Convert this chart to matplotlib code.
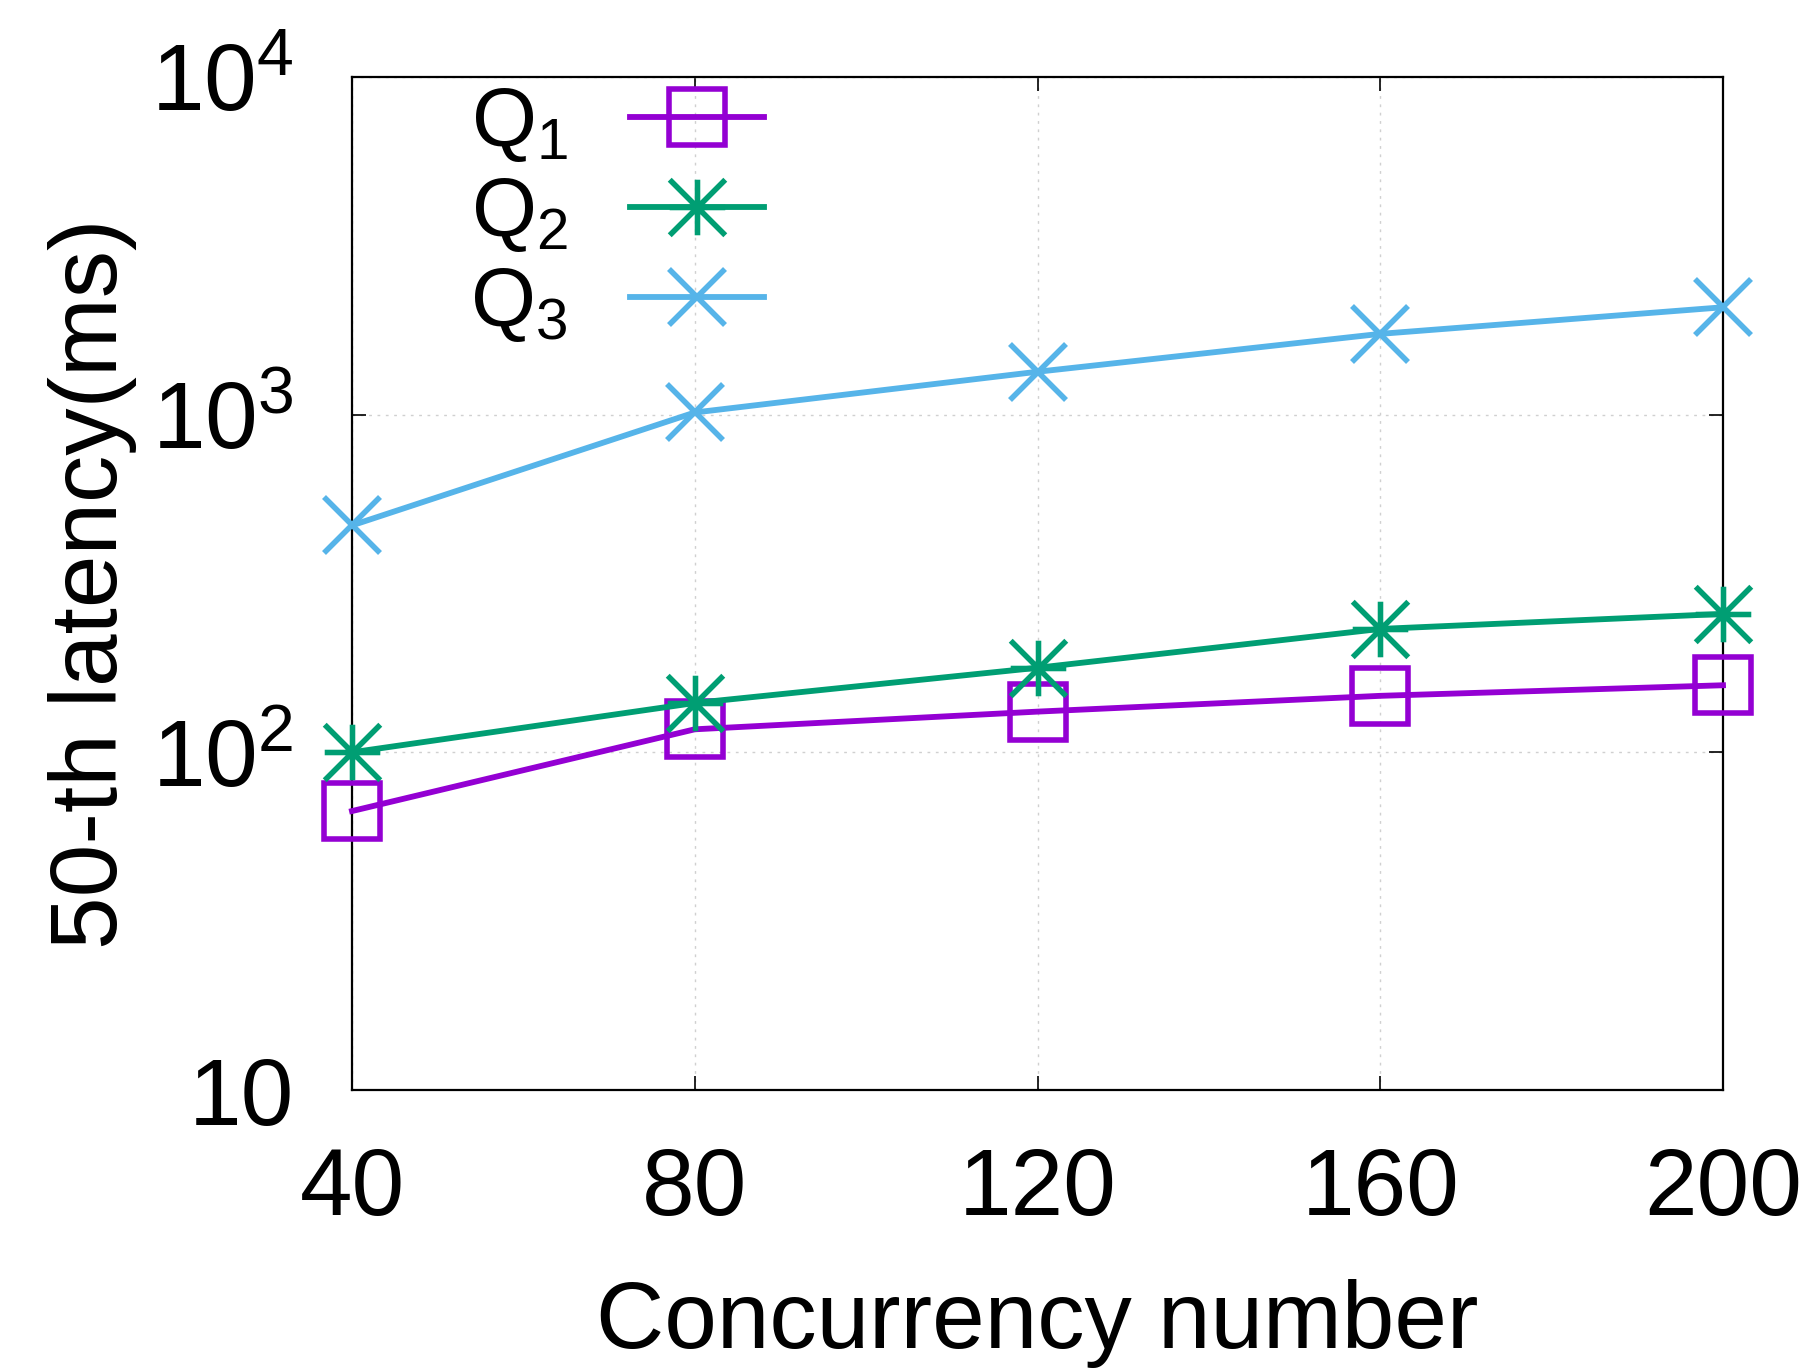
import numpy as np
import matplotlib
matplotlib.use('Agg')
import matplotlib.pyplot as plt
from matplotlib.path import Path
from matplotlib.ticker import FixedLocator, FixedFormatter

plt.rcParams['font.family'] = ['Liberation Sans', 'DejaVu Sans']
plt.rcParams['mathtext.fontset'] = 'custom'
plt.rcParams['mathtext.rm'] = 'Liberation Sans'
plt.rcParams['mathtext.it'] = 'Liberation Sans'
plt.rcParams['mathtext.default'] = 'regular'

# median latency (ms) per concurrency level
concurrency = [40, 80, 120, 160, 200]
q1_latency = [67, 117, 132, 147, 158]
q2_latency = [100, 140, 178, 232, 257]
q3_latency = [470, 1015, 1340, 1735, 2080]

series_labels = ['Q$_1$', 'Q$_2$', 'Q$_3$']
y_ticks = [10, 100, 1000, 10000]
y_tick_labels = ['10', '10$^2$', '10$^3$', '10$^4$']

# gnuplot-style asterisk: a "+" and an "x" on top of each other
star = Path([(-1, 0), (1, 0), (0, -1), (0, 1),
             (-1, -1), (1, 1), (-1, 1), (1, -1)],
            [Path.MOVETO, Path.LINETO] * 4)

colors = ['#9400d3', '#009e73', '#56b4e9']
markers = ['s', star, 'x']

fig = plt.figure(figsize=(18.14, 13.69), dpi=100)
ax = fig.add_axes([352 / 1814, 1 - 1090 / 1369,
                   (1723 - 352) / 1814, (1090 - 77) / 1369])

for ys, lab, c, m in zip([q1_latency, q2_latency, q3_latency],
                         series_labels, colors, markers):
    ax.plot(concurrency, ys, color=c, lw=4.2, marker=m, ms=40,
            mew=4.0, mfc='none', mec=c, label=lab, clip_on=False, zorder=3)

ax.set_yscale('log')
ax.set_ylim(10, 10000)
ax.set_xlim(40, 200)
ax.yaxis.set_major_locator(FixedLocator(y_ticks))
ax.yaxis.set_major_formatter(FixedFormatter(y_tick_labels))
ax.yaxis.set_minor_locator(FixedLocator([]))
ax.set_xticks(concurrency)
ax.set_xticklabels([str(v) for v in concurrency])

ax.grid(True, which='major', color='#d0d0d0', linestyle=(0, (2, 4)), lw=1.0)
ax.tick_params(axis='both', which='major', direction='in', length=10,
               width=1.2, labelsize=68, top=True, right=True)
ax.tick_params(axis='y', pad=42)
ax.tick_params(axis='x', pad=40)
for sp in ax.spines.values():
    sp.set_linewidth(1.6)

ax.set_xlabel('Concurrency number', fontsize=68, labelpad=32)
ax.set_ylabel('50-th latency(ms)', fontsize=68, labelpad=10)

ax.legend(loc='upper left', bbox_to_anchor=(0.062, 1.025), frameon=False,
          markerfirst=False, fontsize=60, handlelength=1.6,
          handletextpad=0.75, labelspacing=0.13, borderaxespad=0.0)

fig.savefig('out.png', dpi=100)
